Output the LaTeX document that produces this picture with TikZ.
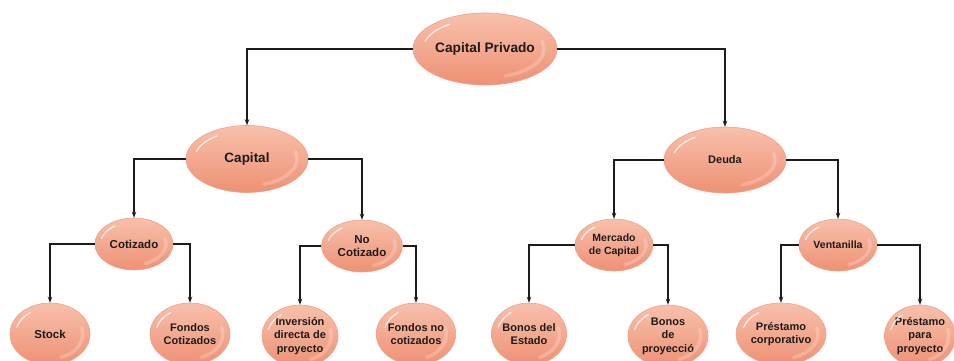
\documentclass[tikz,border=0pt]{standalone}
\usepackage{fontspec}
\setmainfont{Liberation Sans}
\usetikzlibrary{shapes.geometric,arrows.meta}
\definecolor{bubtop}{HTML}{F8C0AB}
\definecolor{bubbot}{HTML}{EE9174}
\definecolor{bubline}{HTML}{EFA189}
\definecolor{ink}{HTML}{1C1C1C}
\tikzset{
  bub/.style 2 args={ellipse, inner sep=0pt, minimum width=#1pt, minimum height=#2pt,
    top color=bubtop, bottom color=bubbot, draw=bubline, line width=0.6pt,
    text=ink, align=center, font=\bfseries\fontsize{11}{13.5}\selectfont},
  gloss/.style={white, opacity=0.75, line width=1.3pt, line cap=round},
  sheen/.style={white, opacity=0.22, line width=3.5pt, line cap=round},
  arr/.style={draw=ink, line width=1.1pt, -{Stealth[length=6pt,width=4.5pt]}},
}
\begin{document}
\begin{tikzpicture}[x=1pt,y=1pt]
\useasboundingbox (0,0) rectangle (954,-361);
% top level
\node[bub={144}{72}, font=\bfseries\fontsize{13.7}{16}\selectfont] (cp) at (485,-49) {Capital Privado};
% second level
\node[bub={122}{67}, font=\bfseries\fontsize{13.5}{16}\selectfont] (cap) at (247,-159) {Capital};
\node[bub={122}{66}] (deu) at (725,-160) {Deuda};
% third level
\node[bub={78}{52}, font=\bfseries\fontsize{11.5}{13.5}\selectfont] (cot) at (134,-244) {Cotizado};
\node[bub={81}{52}, font=\bfseries\fontsize{11.5}{13.5}\selectfont] (ncot) at (362,-246) {No\\Cotizado};
\node[bub={78}{52}, font=\bfseries\fontsize{10.5}{13}\selectfont] (mer) at (614,-245) {Mercado\\de Capital};
\node[bub={78}{52}, font=\bfseries\fontsize{10.5}{13}\selectfont] (ven) at (838,-245) {Ventanilla};
% bottom level
\node[bub={80}{62}, font=\bfseries\fontsize{11.5}{13.5}\selectfont] (sto) at (50,-334) {Stock};
\node[bub={80}{62}] (fco) at (190,-334) {Fondos\\Cotizados};
\node[bub={76}{62}] (inv) at (300,-336) {Inversión\\directa de\\proyecto};
\node[bub={74}{62}] (fnc) at (416,-334) {Fondos no\\cotizados};
\node[bub={74}{62}] (bes) at (529,-334) {Bonos del\\Estado};
\node[bub={80}{62}] (bpr) at (668,-336) {Bonos\\de\\proyecció};
\node[bub={90}{62}] (pco) at (781,-334) {Préstamo\\corporativo};
\node[bub={70}{62}] (ppr) at (920,-336) {Préstamo\\para\\proyecto};
% glossy highlights: a bright streak upper left, a soft sheen lower right
\foreach \n/\a/\b in {cp/72/36, cap/61/33.5, deu/61/33, cot/39/26, ncot/40.5/26,
    mer/39/26, ven/39/26, sto/40/31, fco/40/31, inv/38/31, fnc/37/31,
    bes/37/31, bpr/40/31, pco/45/31, ppr/35/31} {
  \draw[gloss] (\n.center) ++(125:{0.86*\a} and {0.84*\b})
    arc[start angle=125, end angle=165, x radius={0.86*\a}, y radius={0.84*\b}];
  \draw[sheen] (\n.center) ++(-70:{0.82*\a} and {0.8*\b})
    arc[start angle=-70, end angle=15, x radius={0.82*\a}, y radius={0.8*\b}];
}
% connectors
\draw[arr] (cp.west) -| (cap.north);
\draw[arr] (cp.east) -| (deu.north);
\draw[arr] (cap.west) -| (cot.north);
\draw[arr] (cap.east) -| (ncot.north);
\draw[arr] (deu.west) -| (mer.north);
\draw[arr] (deu.east) -| (ven.north);
\draw[arr] (cot.west) -| (sto.north);
\draw[arr] (cot.east) -| (fco.north);
\draw[arr] (ncot.west) -| (inv.north);
\draw[arr] (ncot.east) -| (fnc.north);
\draw[arr] (mer.west) -| (bes.north);
\draw[arr] (mer.east) -| (bpr.north);
\draw[arr] (ven.west) -| (pco.north);
\draw[arr] (ven.east) -| (ppr.north);
\end{tikzpicture}
\end{document}
